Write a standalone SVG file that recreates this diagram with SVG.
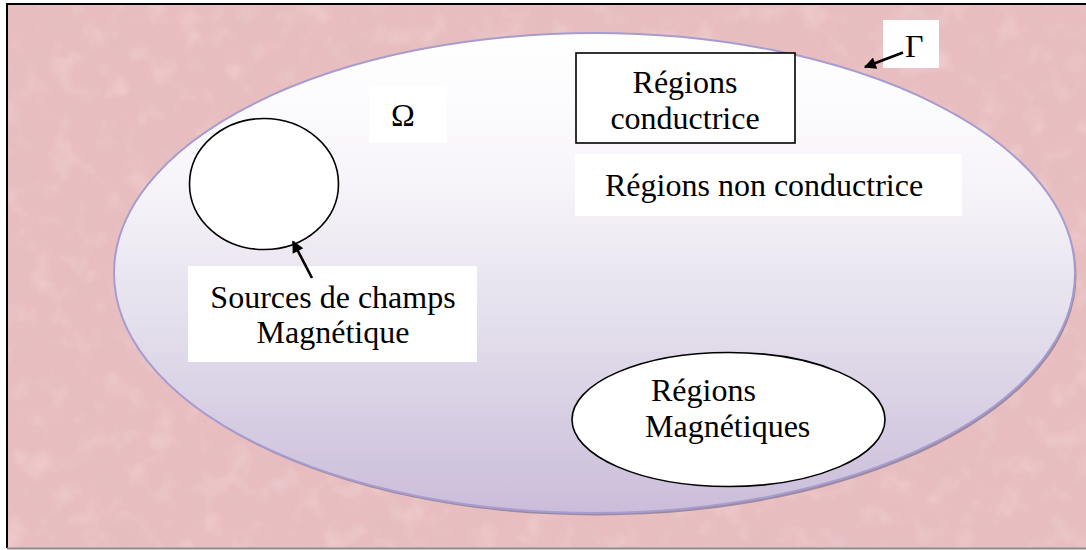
<svg xmlns="http://www.w3.org/2000/svg" width="1086" height="550" viewBox="0 0 1086 550">
  <defs>
    <style>
      .plate { fill: #ffffff; stroke: none; }
      .outline { fill: #ffffff; stroke: #000; stroke-width: 1.6; }
      .wire { stroke: #000; stroke-width: 2.6; fill: none; marker-end: url(#head); }
    </style>
    <!-- mottled pink paper texture -->
    <filter id="paper" x="0" y="0" width="100%" height="100%" filterUnits="objectBoundingBox">
      <feTurbulence type="fractalNoise" baseFrequency="0.03 0.025" numOctaves="4" seed="7" result="n"/>
      <feColorMatrix in="n" type="matrix" values="0 0 0 0 0.72  0 0 0 0 0.50  0 0 0 0 0.53  0.8 0 0 0 -0.32" result="dark"/>
      <feTurbulence type="fractalNoise" baseFrequency="0.04" numOctaves="3" seed="21" result="n2"/>
      <feColorMatrix in="n2" type="matrix" values="0 0 0 0 0.98  0 0 0 0 0.86  0 0 0 0 0.87  0.6 0 0 0 -0.30" result="light"/>
      <feGaussianBlur in="light" stdDeviation="1.2" result="lightSoft"/>
      <feGaussianBlur in="dark" stdDeviation="0.8" result="darkSoft"/>
      <feMerge>
        <feMergeNode in="SourceGraphic"/>
        <feMergeNode in="lightSoft"/>
        <feMergeNode in="darkSoft"/>
      </feMerge>
    </filter>
    <linearGradient id="domainFill" x1="0" y1="0" x2="0" y2="1">
      <stop offset="0" stop-color="#ffffff"/>
      <stop offset="0.3" stop-color="#f7f5fa"/>
      <stop offset="0.6" stop-color="#e4dfec"/>
      <stop offset="1" stop-color="#cbbdda"/>
    </linearGradient>
    <marker id="head" viewBox="0 0 10 10" refX="9" refY="5" markerWidth="15" markerHeight="12" markerUnits="userSpaceOnUse" orient="auto">
      <path d="M0,0 L10,5 L0,10 z" fill="#000"/>
    </marker>
  </defs>

  <!-- background sheet -->
  <rect x="7" y="4" width="1079" height="544" fill="#e9bec0" filter="url(#paper)"/>
  <path d="M7,548 V4 H1086" fill="none" stroke="#000" stroke-width="2"/>
  <path d="M7,548.5 H1086" fill="none" stroke="#8d8d8d" stroke-width="2"/>

  <!-- domain Omega bounded by Gamma -->
  <g id="domain">
    <ellipse cx="596.5" cy="275.5" rx="480" ry="240" fill="#8e8098" opacity="0.85"/>
    <ellipse cx="594.5" cy="273" rx="480.5" ry="240" fill="url(#domainFill)" stroke="#a69cd0" stroke-width="2"/>
  </g>

  <g font-family="'Liberation Serif', 'Times New Roman', 'DejaVu Serif', serif" font-size="32" fill="#000">
    <g id="omega-label">
      <rect class="plate" x="369" y="85" width="78" height="58"/>
      <text x="391" y="126">Ω</text>
    </g>

    <g id="gamma-label">
      <rect class="plate" x="883" y="20" width="56" height="48"/>
      <text x="905" y="57">Γ</text>
    </g>

    <g id="conducting">
      <rect class="outline" x="576" y="53" width="219" height="90"/>
      <text x="685" y="93" text-anchor="middle">Régions</text>
      <text x="685" y="129" text-anchor="middle">conductrice</text>
    </g>

    <g id="non-conducting">
      <rect class="plate" x="575" y="154" width="387" height="62"/>
      <text x="605" y="196">Régions non conductrice</text>
    </g>

    <g id="sources">
      <ellipse class="outline" cx="264" cy="184" rx="74.5" ry="65.5"/>
    </g>

    <g id="sources-label">
      <rect class="plate" x="188" y="266" width="289" height="96"/>
      <text x="333" y="308" text-anchor="middle">Sources de champs</text>
      <text x="333" y="343" text-anchor="middle">Magnétique</text>
    </g>

    <g id="magnetic">
      <ellipse class="outline" cx="728.5" cy="419.5" rx="156.5" ry="67"/>
      <text x="651" y="401">Régions</text>
      <text x="645" y="437">Magnétiques</text>
    </g>
  </g>

  <g id="connectors">
    <line class="wire" x1="903" y1="52.5" x2="865" y2="67"/>
    <line class="wire" x1="312" y1="278" x2="293" y2="241.5"/>
  </g>
</svg>
